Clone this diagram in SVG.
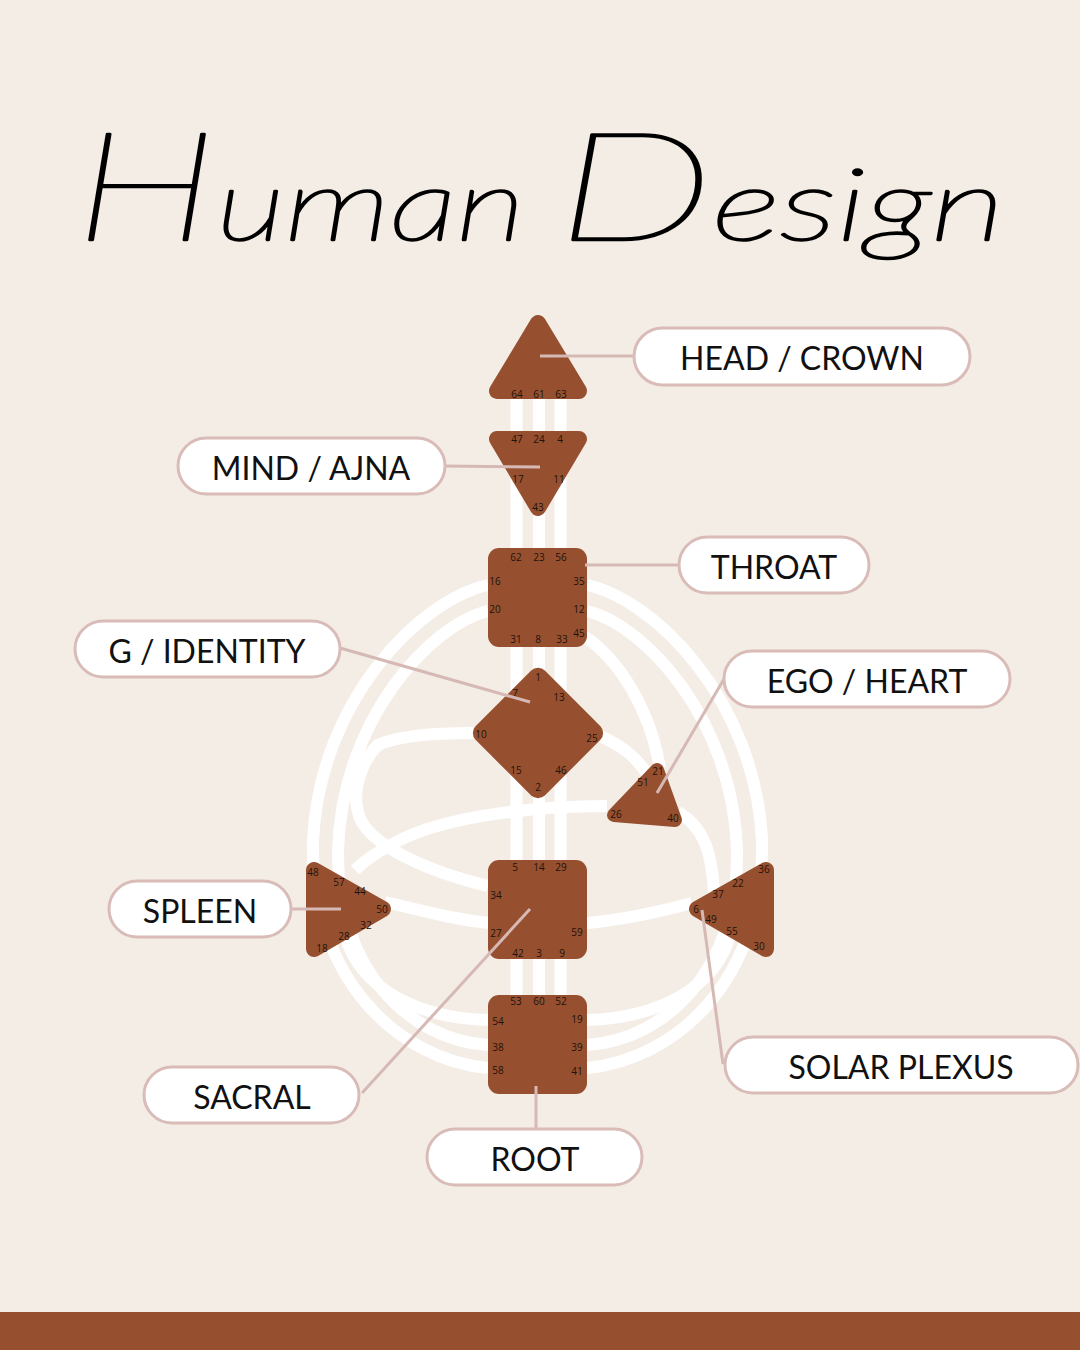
<svg xmlns="http://www.w3.org/2000/svg" width="1080" height="1350" viewBox="0 0 1080 1350">
<style>
.bg{fill:#F4EDE6}
.ch{fill:none;stroke:#FFFFFF;stroke-width:12;stroke-linecap:butt}
.ctr{fill:#96502F;stroke:#96502F;stroke-linejoin:round}
.num{font-family:"Open Sans","Liberation Sans",sans-serif;font-size:10px;font-weight:500;fill:#1E120C;text-anchor:middle;dominant-baseline:central}
.pill{fill:#FFFFFF;stroke:#D9BCB8;stroke-width:3}
.lbl{font-family:Lato,"Liberation Sans",sans-serif;font-size:32px;fill:#111111;text-anchor:middle;dominant-baseline:central}
.lead{stroke:#D6B9B5;stroke-width:3;fill:none}
.title{font-family:Lato,"Liberation Sans",sans-serif;font-style:italic;font-weight:100;fill:#000000;stroke:#000000;stroke-width:2.5;stroke-linejoin:round}
.cap{font-size:150px}
.low{font-size:100px}
</style>
<rect class="bg" x="0" y="0" width="1080" height="1350"/>
<rect x="0" y="1312" width="1080" height="38" fill="#96502F"/>
<text class="title" x="75" y="240" textLength="450" lengthAdjust="spacingAndGlyphs"><tspan class="cap">H</tspan><tspan class="low">uman</tspan></text>
<text class="title" x="557" y="240" textLength="448" lengthAdjust="spacingAndGlyphs"><tspan class="cap">D</tspan><tspan class="low">esign</tspan></text>

<g id="channels">
<path class="ch" d="M516.5 399 V995 M539 399 V995 M560.5 399 V995"/>
<path class="ch" d="M488 585 C420 600 320 700 313 840 C310 980 400 1060 488 1068"/>
<path class="ch" d="M488 611 C430 625 342 720 338 850 C336 970 410 1040 488 1045"/>
<path class="ch" d="M345 935 C360 990 420 1018 488 1020"/>
<path class="ch" d="M587 585 C655 600 755 700 762 840 C765 980 675 1060 587 1068"/>
<path class="ch" d="M587 611 C645 625 733 720 737 850 C739 970 665 1040 587 1045"/>
<path class="ch" d="M730 935 C715 990 655 1018 587 1020"/>
<path class="ch" d="M584 636 C620 660 650 710 660 768"/>
<path class="ch" d="M473 733 C430 733 395 737 378 745 C362 760 352 790 358 812 C365 845 430 872 488 886"/>
<path class="ch" d="M607 806 C540 806 450 815 400 840 C380 850 365 860 355 870"/>
<path class="ch" d="M600 736 C620 745 635 755 648 775"/>
<path class="ch" d="M678 812 C700 825 712 845 714 895"/>
<path class="ch" d="M385 902 C420 910 455 920 490 923"/>
<path class="ch" d="M587 923 C620 920 655 913 692 903"/>
</g>

<g id="head">
<polygon class="ctr" stroke-width="16" points="538,323 497,391 579,391"/>
<text class="num" x="517" y="394">64</text><text class="num" x="539" y="394">61</text><text class="num" x="561" y="394">63</text>
</g>
<g id="ajna">
<polygon class="ctr" stroke-width="16" points="497,439 579,439 538,508"/>
<text class="num" x="517" y="439">47</text><text class="num" x="539" y="439">24</text><text class="num" x="560" y="439">4</text>
<text class="num" x="518" y="479">17</text><text class="num" x="559" y="479">11</text><text class="num" x="538" y="507">43</text>
</g>
<g id="throat">
<rect class="ctr" stroke-width="0" x="488" y="548" width="99" height="99" rx="11"/>
<text class="num" x="516" y="557">62</text><text class="num" x="539" y="557">23</text><text class="num" x="561" y="557">56</text>
<text class="num" x="495" y="581">16</text><text class="num" x="579" y="581">35</text>
<text class="num" x="495" y="609">20</text><text class="num" x="579" y="609">12</text>
<text class="num" x="579" y="633">45</text>
<text class="num" x="516" y="639">31</text><text class="num" x="538" y="639">8</text><text class="num" x="562" y="639">33</text>
</g>
<g id="g-identity">
<rect class="ctr" stroke-width="0" x="-49" y="-49" width="98" height="98" rx="10" transform="translate(538 733) rotate(45)"/>
<text class="num" x="538" y="677">1</text><text class="num" x="515" y="693">7</text><text class="num" x="559" y="697">13</text>
<text class="num" x="481" y="734">10</text><text class="num" x="592" y="738">25</text>
<text class="num" x="516" y="770">15</text><text class="num" x="561" y="770">46</text><text class="num" x="538" y="787">2</text>
</g>
<g id="heart">
<polygon class="ctr" stroke-width="14" points="657,770 614,815 675,820"/>
<text class="num" x="658" y="771">21</text><text class="num" x="643" y="782">51</text>
<text class="num" x="616" y="814">26</text><text class="num" x="673" y="818">40</text>
</g>
<g id="spleen">
<polygon class="ctr" stroke-width="16" points="314,870 314,949 383,909"/>
<text class="num" x="313" y="872">48</text><text class="num" x="339" y="882">57</text><text class="num" x="360" y="891">44</text>
<text class="num" x="382" y="909">50</text><text class="num" x="366" y="925">32</text><text class="num" x="344" y="936">28</text><text class="num" x="322" y="948">18</text>
</g>
<g id="sacral">
<rect class="ctr" stroke-width="0" x="488" y="860" width="99" height="99" rx="11"/>
<text class="num" x="515" y="867">5</text><text class="num" x="539" y="867">14</text><text class="num" x="561" y="867">29</text>
<text class="num" x="496" y="895">34</text><text class="num" x="496" y="933">27</text><text class="num" x="577" y="932">59</text>
<text class="num" x="518" y="953">42</text><text class="num" x="539" y="953">3</text><text class="num" x="562" y="953">9</text>
</g>
<g id="solar-plexus">
<polygon class="ctr" stroke-width="16" points="766,870 766,949 697,909"/>
<text class="num" x="764" y="869">36</text><text class="num" x="738" y="883">22</text><text class="num" x="718" y="894">37</text>
<text class="num" x="696" y="909">6</text><text class="num" x="711" y="919">49</text><text class="num" x="732" y="931">55</text><text class="num" x="759" y="946">30</text>
</g>
<g id="root">
<rect class="ctr" stroke-width="0" x="488" y="995" width="99" height="99" rx="11"/>
<text class="num" x="516" y="1001">53</text><text class="num" x="539" y="1001">60</text><text class="num" x="561" y="1001">52</text>
<text class="num" x="498" y="1021">54</text><text class="num" x="577" y="1019">19</text>
<text class="num" x="498" y="1047">38</text><text class="num" x="577" y="1047">39</text>
<text class="num" x="498" y="1070">58</text><text class="num" x="577" y="1071">41</text>
</g>

<g id="leaders">
<path class="lead" d="M540 356 H634"/>
<path class="lead" d="M445 466 L540 467"/>
<path class="lead" d="M585 565 H679"/>
<path class="lead" d="M340 648 L530 702"/>
<path class="lead" d="M724 679 L657 793"/>
<path class="lead" d="M291 909 H341"/>
<path class="lead" d="M362 1093 L530 909"/>
<path class="lead" d="M536 1129 V1086"/>
<path class="lead" d="M702 910 L723 1064"/>
</g>

<g id="label-head"><rect class="pill" x="634" y="328" width="336" height="57" rx="28.5"/><text class="lbl" x="802" y="357">HEAD / CROWN</text></g>
<g id="label-ajna"><rect class="pill" x="178" y="438" width="267" height="56" rx="28"/><text class="lbl" x="311" y="467">MIND / AJNA</text></g>
<g id="label-throat"><rect class="pill" x="679" y="537" width="190" height="56" rx="28"/><text class="lbl" x="774" y="566">THROAT</text></g>
<g id="label-g"><rect class="pill" x="75" y="621" width="265" height="56" rx="28"/><text class="lbl" x="207" y="650">G / IDENTITY</text></g>
<g id="label-ego"><rect class="pill" x="724" y="651" width="286" height="56" rx="28"/><text class="lbl" x="867" y="680">EGO / HEART</text></g>
<g id="label-spleen"><rect class="pill" x="109" y="881" width="182" height="56" rx="28"/><text class="lbl" x="200" y="910">SPLEEN</text></g>
<g id="label-sacral"><rect class="pill" x="144" y="1067" width="215" height="56" rx="28"/><text class="lbl" x="252" y="1096">SACRAL</text></g>
<g id="label-root"><rect class="pill" x="427" y="1129" width="215" height="56" rx="28"/><text class="lbl" x="535" y="1158">ROOT</text></g>
<g id="label-solar"><rect class="pill" x="725" y="1037" width="353" height="56" rx="28"/><text class="lbl" x="901" y="1066">SOLAR PLEXUS</text></g>
</svg>
